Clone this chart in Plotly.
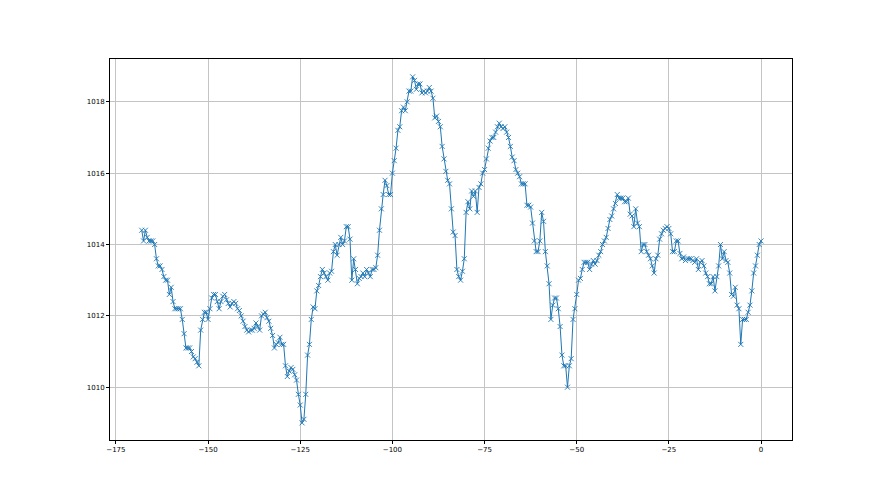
import plotly.graph_objects as go

# Hours relative to now (0.5 h steps, -168 .. 0)
x_start = -168.0
x_step = 0.5

pressure = [
    1014.4, 1014.1, 1014.4, 1014.2, 1014.1, 1014.1, 1014.1, 1014.0, 1013.6, 1013.4,
    1013.4, 1013.3, 1013.1, 1013.0, 1013.0, 1012.6, 1012.8, 1012.4, 1012.2, 1012.2,
    1012.2, 1012.2, 1011.9, 1011.5, 1011.1, 1011.1, 1011.1, 1011.0, 1010.85, 1010.8,
    1010.7, 1010.6, 1011.6, 1011.9, 1012.1, 1012.1, 1011.9, 1012.2, 1012.5, 1012.6,
    1012.6, 1012.4, 1012.2, 1012.4, 1012.55, 1012.6, 1012.45, 1012.35, 1012.25, 1012.35,
    1012.4, 1012.35, 1012.2, 1012.15, 1012.0, 1011.85, 1011.7, 1011.6, 1011.55, 1011.6,
    1011.6, 1011.65, 1011.8, 1011.7, 1011.6, 1012.0, 1012.05, 1012.1, 1011.95, 1011.85,
    1011.65, 1011.45, 1011.1, 1011.2, 1011.25, 1011.4, 1011.2, 1011.2, 1010.6, 1010.3,
    1010.45, 1010.55, 1010.5, 1010.35, 1010.2, 1009.8, 1009.5, 1009.0, 1009.1, 1009.8,
    1010.9, 1011.2, 1011.9, 1012.25, 1012.2, 1012.7, 1012.85, 1013.1, 1013.3, 1013.2,
    1013.1, 1013.0, 1013.2, 1013.25, 1013.8, 1014.0, 1013.7, 1014.0, 1014.2, 1014.0,
    1014.1, 1014.5, 1014.5, 1014.15, 1013.0, 1013.6, 1013.3, 1012.9, 1013.05, 1013.1,
    1013.2, 1013.1, 1013.3, 1013.2, 1013.1, 1013.3, 1013.3, 1013.35, 1013.7, 1014.4,
    1015.0, 1015.4, 1015.8, 1015.65, 1015.4, 1015.4, 1016.0, 1016.35, 1016.7, 1017.2,
    1017.3, 1017.75, 1017.85, 1017.75, 1018.0, 1018.3, 1018.3, 1018.7, 1018.6, 1018.35,
    1018.5, 1018.5, 1018.25, 1018.3, 1018.25, 1018.3, 1018.4, 1018.3, 1018.1, 1017.55,
    1017.6, 1017.45, 1017.3, 1016.75, 1016.4, 1016.05, 1015.8, 1015.7, 1015.0, 1014.35,
    1014.25, 1013.3, 1013.1, 1013.0, 1013.25, 1013.6, 1014.9, 1015.2, 1015.0, 1015.5,
    1015.35, 1015.5, 1014.9, 1015.6, 1015.7, 1016.0, 1016.1, 1016.4, 1016.7, 1016.9,
    1017.0, 1017.0, 1017.15, 1017.3, 1017.4, 1017.3, 1017.25, 1017.3, 1017.15, 1017.0,
    1016.75, 1016.45, 1016.35, 1016.1, 1016.0, 1015.9, 1015.7, 1015.7, 1015.7, 1015.1,
    1015.1, 1015.05, 1014.6, 1014.1, 1013.8, 1013.8, 1014.1, 1014.9, 1014.65, 1013.8,
    1013.4, 1012.9, 1011.9, 1012.3, 1012.5, 1012.5, 1012.2, 1011.7, 1010.9, 1010.6,
    1010.6, 1010.0, 1010.6, 1010.8, 1011.9, 1012.2, 1012.6, 1013.0, 1013.05, 1013.3,
    1013.5, 1013.5, 1013.5, 1013.3, 1013.45, 1013.55, 1013.45, 1013.55, 1013.7, 1013.8,
    1014.0, 1014.1, 1014.2, 1014.45, 1014.7, 1014.8, 1015.0, 1015.15, 1015.4, 1015.3,
    1015.3, 1015.3, 1015.2, 1015.2, 1015.3, 1014.85, 1014.8, 1014.5, 1015.0, 1014.6,
    1014.5, 1013.8, 1014.0, 1014.0, 1013.8, 1013.7, 1013.6, 1013.4, 1013.2, 1013.6,
    1013.7, 1014.15, 1014.3, 1014.4, 1014.45, 1014.5, 1014.45, 1014.3, 1013.8, 1013.8,
    1014.1, 1014.1, 1013.75, 1013.6, 1013.65, 1013.55, 1013.6, 1013.6, 1013.6, 1013.55,
    1013.5, 1013.6, 1013.3, 1013.5, 1013.55, 1013.4, 1013.2, 1013.1, 1012.9, 1012.9,
    1013.1, 1012.7, 1013.1, 1013.4, 1014.0, 1013.6, 1013.8, 1013.55, 1013.5, 1013.2,
    1012.6, 1012.55, 1012.8, 1012.3, 1012.2, 1011.2, 1011.9, 1011.9, 1011.9, 1012.1,
    1012.3, 1012.7, 1013.2, 1013.4, 1013.7, 1014.0, 1014.1,
]

hours = [x_start + i * x_step for i in range(len(pressure))]

x_tick_vals = [-175, -150, -125, -100, -75, -50, -25, 0]
y_tick_vals = [1010, 1012, 1014, 1016, 1018]

color = "#1f77b4"

fig = go.Figure()
fig.add_trace(go.Scatter(
    x=hours, y=pressure, mode="lines+markers",
    line=dict(color=color, width=1),
    marker=dict(symbol="x-thin", size=5, color=color,
                line=dict(width=0.9, color=color)),
    showlegend=False,
))

axis_common = dict(
    showline=True, mirror=True, linecolor="#000000", linewidth=0.8,
    showgrid=True, gridcolor="#c4c4c4", gridwidth=0.8,
    ticks="outside", ticklen=3, tickwidth=0.8, tickcolor="#000000",
    zeroline=False,
    tickfont=dict(family="DejaVu Sans", size=7, color="#000000"),
)

fig.update_xaxes(range=[-176.6, 8.4], tickvals=x_tick_vals, **axis_common)
fig.update_yaxes(range=[1008.52, 1019.2], tickvals=y_tick_vals, **axis_common)

fig.update_layout(
    width=880, height=495,
    margin=dict(l=110, r=88, t=59, b=55, autoexpand=False),
    paper_bgcolor="white", plot_bgcolor="white",
)

fig.write_html(
    "out.html",
    config={"displayModeBar": False},
    post_script="document.body.style.margin='0px';document.body.style.overflow='hidden';",
)
